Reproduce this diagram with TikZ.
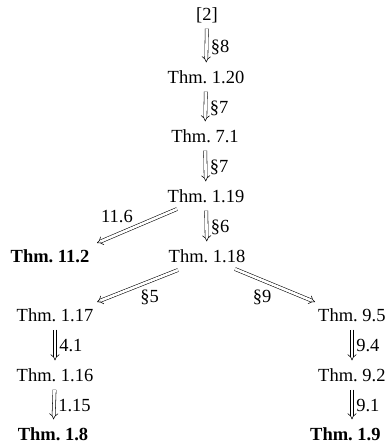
\documentclass[tikz,border=0pt]{standalone}
\usepackage{fontspec}
\setmainfont{Liberation Serif}
\usetikzlibrary{arrows.meta,calc}
\tikzset{
  thm/.style={inner xsep=0pt, inner ysep=8pt, text height=11pt, text depth=0pt, font=\fontsize{18.5}{21}\selectfont},
  lbl/.style={inner sep=0pt, text height=11pt, text depth=0pt, font=\fontsize{18.5}{21}\selectfont},
  impl/.style={double, double distance=2.6pt, line width=0.55pt, -{Implies}},
  vimpl/.style={impl, shorten >=2pt},
}
\begin{document}
\begin{tikzpicture}[x=1pt,y=-1pt]
\useasboundingbox (0,0) rectangle (385,447);
\node[thm] (n2) at (207,15) {[2]};
\node[thm] (n120) at (206,78) {Thm.\ 1.20};
\node[thm] (n71) at (205,137) {Thm.\ 7.1};
\node[thm] (n119) at (206,197) {Thm.\ 1.19};
\node[thm] (n118) at (207,257) {Thm.\ 1.18};
\node[thm] (n112) at (50,257) {\bfseries Thm.\ 11.2};
\node[thm] (n117) at (55,316) {Thm.\ 1.17};
\node[thm] (n116) at (55,376) {Thm.\ 1.16};
\node[thm] (n18) at (53,435) {\bfseries Thm.\ 1.8};
\node[thm, anchor=west] (n95) at (318,316) {Thm.\ 9.5};
\node[thm, anchor=west] (n92) at (318,376) {Thm.\ 9.2};
\node[thm, anchor=west] (n19) at (310,435) {\bfseries Thm.\ 1.9};

\draw[vimpl] (n2) -- (n120) node[lbl, midway, right=4pt] {\S8};
\draw[vimpl] (n120) -- (n71) node[lbl, midway, right=4pt] {\S7};
\draw[vimpl] (n71) -- (n119) node[lbl, midway, right=4pt] {\S7};
\draw[vimpl] (n119) -- (n118) node[lbl, midway, right=4pt] {\S6};
\draw[vimpl] (n117) -- (n116) node[lbl, midway, right=4pt] {4.1};
\draw[vimpl] (n116) -- (n18) node[lbl, midway, right=4pt] {1.15};
\draw[vimpl] ($(n95.south west)+(34,0)$) -- ($(n92.north west)+(34,0)$) node[lbl, midway, right=4pt] {9.4};
\draw[vimpl] ($(n92.south west)+(34,0)$) -- ($(n19.north west)+(42,0)$) node[lbl, midway, right=4pt] {9.1};

\draw[impl] ($(n119)+(-29,12)$) -- ($(n112)+(47,-14)$) node[lbl, pos=0.75, above=12pt] {11.6};
\draw[impl] ($(n118)+(-29,13)$) -- ($(n117)+(42,-14)$) node[lbl, pos=0.35, below=10pt] {\S5};
\draw[impl] ($(n118)+(28,12)$) -- ($(n95.west)+(-3,-14)$) node[lbl, pos=0.34, below=11pt] {\S9};
\end{tikzpicture}
\end{document}
